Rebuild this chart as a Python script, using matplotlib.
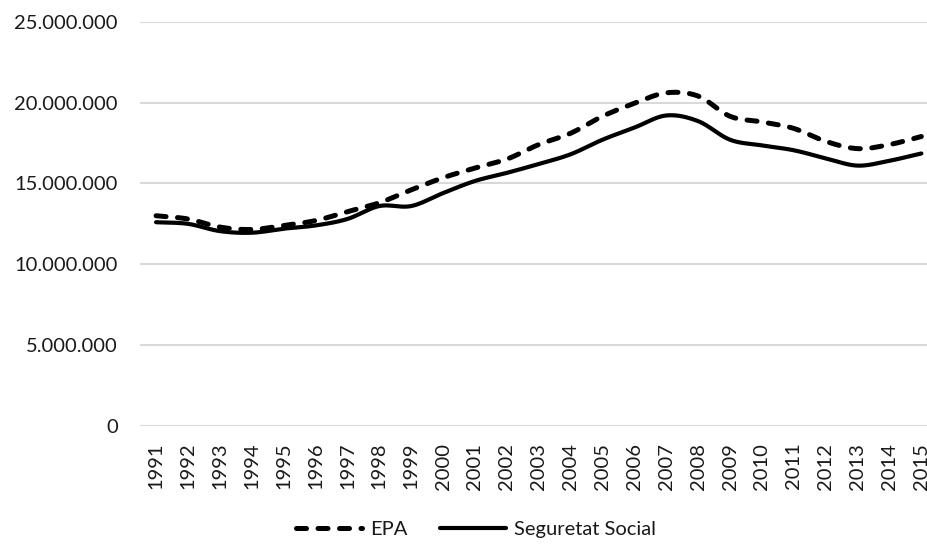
import numpy as np
import matplotlib
matplotlib.use("Agg")
import matplotlib.pyplot as plt
from matplotlib.ticker import FuncFormatter

plt.rcParams['font.family'] = ['Lato', 'DejaVu Sans']

# Dades (llegides del gràfic)
anys = [str(a) for a in range(1991, 2016)]
epa = [13.0, 12.8, 12.3, 12.15, 12.4, 12.7, 13.25, 13.8, 14.6, 15.35, 15.95, 16.5,
       17.4, 18.1, 19.15, 19.95, 20.6, 20.4, 19.15, 18.8, 18.4, 17.6, 17.15, 17.4, 17.9]
ss = [12.6, 12.5, 12.05, 11.95, 12.2, 12.4, 12.8, 13.6, 13.6, 14.4, 15.15, 15.65,
      16.2, 16.8, 17.7, 18.45, 19.2, 18.85, 17.7, 17.35, 17.05, 16.55, 16.1, 16.4, 16.85]
epa = [v * 1e6 for v in epa]
ss = [v * 1e6 for v in ss]


# linia suavitzada (estil Excel, Catmull-Rom)
def suavitza(y, n=20):
    y = np.asarray(y, dtype=float)
    x = np.arange(len(y), dtype=float)
    px = np.concatenate([[2 * x[0] - x[1]], x, [2 * x[-1] - x[-2]]])
    py = np.concatenate([[2 * y[0] - y[1]], y, [2 * y[-1] - y[-2]]])
    xs, ys = [], []
    t = np.linspace(0, 1, n, endpoint=False)
    for i in range(1, len(px) - 2):
        for p, out in ((px, xs), (py, ys)):
            p0, p1, p2, p3 = p[i - 1], p[i], p[i + 1], p[i + 2]
            out.extend(0.5 * (2 * p1 + (-p0 + p2) * t + (2 * p0 - 5 * p1 + 4 * p2 - p3) * t ** 2
                              + (-p0 + 3 * p1 - 3 * p2 + p3) * t ** 3))
    xs.append(x[-1])
    ys.append(y[-1])
    return np.array(xs), np.array(ys)


fig = plt.figure(figsize=(9.28, 5.46), dpi=100)
ax = fig.add_axes([0.151, 0.2198, 0.859, 0.7405])

x1, y1 = suavitza(epa)
x2, y2 = suavitza(ss)
ax.plot(x1, y1, color='black', lw=3.6, dashes=(2.0, 2.3), dash_capstyle='round',
        label='EPA', zorder=3)
ax.plot(x2, y2, color='black', lw=3.0, solid_capstyle='round',
        label='Seguretat Social', zorder=3)

ax.set_xlim(-0.5, len(anys) - 0.5)
ax.set_ylim(0, 25e6)
ax.set_yticks(np.arange(0, 25e6 + 1, 5e6))
ax.yaxis.set_major_formatter(FuncFormatter(lambda v, p: f"{int(v):,}".replace(',', '.')))
ax.set_xticks(range(len(anys)))
ax.set_xticklabels(anys, rotation=90)

ax.grid(axis='y', color='#d9d9d9', lw=1.5)
ax.set_axisbelow(True)
for s in ax.spines.values():
    s.set_visible(False)
ax.tick_params(axis='both', length=0, labelsize=14.5, colors='#1a1a1a')
ax.tick_params(axis='y', pad=16)
ax.tick_params(axis='x', pad=12)

leg = fig.legend(loc='center', bbox_to_anchor=(0.513, 0.03), ncol=2, frameon=False,
                 fontsize=14.5, handlelength=3.3, columnspacing=1.6, handletextpad=0.4)
for t in leg.get_texts():
    t.set_color('#1a1a1a')

fig.savefig('out.png', dpi=100)
